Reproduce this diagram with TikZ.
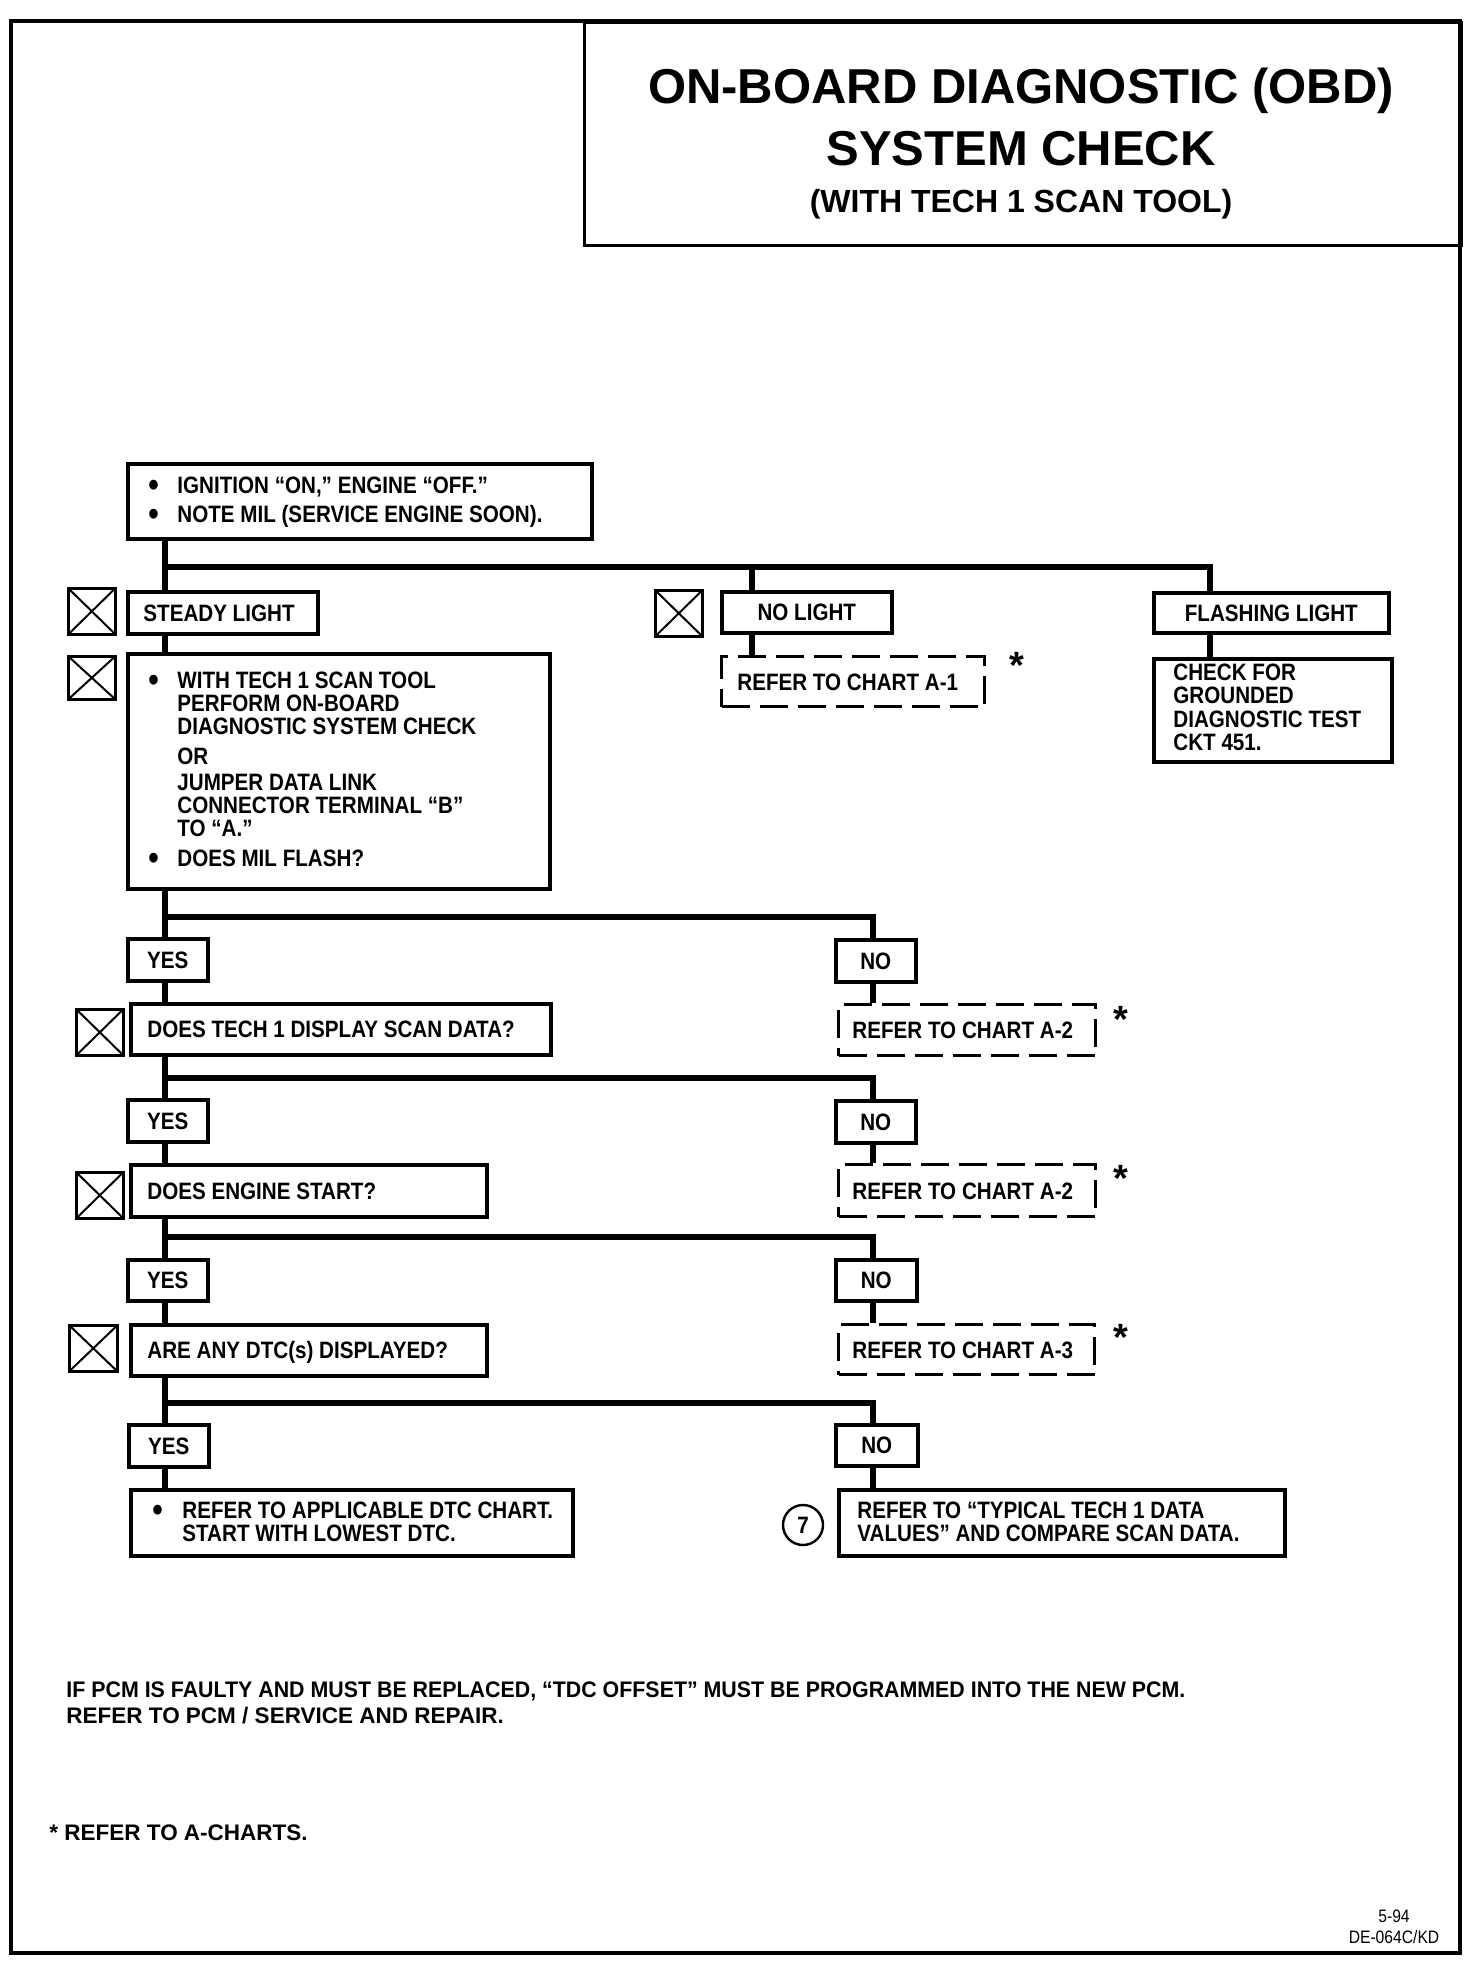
\documentclass[tikz,border=0pt]{standalone}
\usepackage{fontspec}
\setmainfont{Liberation Sans}
\newfontfamily\condfont{Liberation Sans}[FakeStretch=0.87]
\newcommand\bigbul{\raisebox{-1.6pt}{\scalebox{1.45}{\textbullet}}}
\newcommand\bul{\makebox[14.5pt][l]{\bigbul}}
\newcommand\ind{\kern14.5pt}
\begin{document}
\begin{tikzpicture}[x=0.5pt,y=-0.5pt,
  every node/.style={inner sep=0pt},
  box/.style={draw, line width=1.8pt, anchor=north west},
  dbox/.style={draw, line width=1.5pt, dash pattern=on 14pt off 5pt, anchor=north west},
  xbox/.style={draw, line width=1.3pt, anchor=north west, minimum width=23.5pt, minimum height=23pt,
    path picture={\draw[line width=1pt] (path picture bounding box.north west) -- (path picture bounding box.south east)
      (path picture bounding box.north east) -- (path picture bounding box.south west);}},
  txt/.style={font=\condfont\bfseries\fontsize{11.85pt}{14pt}\selectfont},
  ctxt/.style={txt, text height=8.6pt, text depth=0pt},
  conn/.style={line width=2.9pt},
  star/.style={font=\bfseries\fontsize{19pt}{19pt}\selectfont, anchor=north},
  foot/.style={font=\bfseries\fontsize{11.25pt}{12pt}\selectfont, anchor=base west},
]
\useasboundingbox (0,0) rectangle (1472,1964);
% frame and title box
\draw[line width=1.6pt] (11,21) rectangle (1460,1953);
\node[draw, line width=1.5pt, anchor=north west, minimum width=438.5pt, minimum height=111.5pt] (titlebox) at (583,21) {};
\node[font=\bfseries\fontsize{24.5pt}{24.5pt}\selectfont, anchor=base] (title1) at (1021,104) {ON-BOARD DIAGNOSTIC (OBD)};
\node[font=\bfseries\fontsize{24.5pt}{24.5pt}\selectfont, anchor=base] (title2) at (1021,165) {SYSTEM CHECK};
\node[font=\bfseries\fontsize{16pt}{16pt}\selectfont, anchor=base] (title3) at (1021,212) {(WITH TECH 1 SCAN TOOL)};

% boxes
\node[box, minimum width=232pt, minimum height=37.5pt] (b1) at (126,462) {};
\node[txt, anchor=base west] (b1t) at (148,493) {\vtop{\baselineskip=14.5pt
  \hbox{\bul IGNITION “ON,” ENGINE “OFF.”}\hbox{\bul NOTE MIL (SERVICE ENGINE SOON).}}};

\node[xbox] (xs) at (67,587) {};
\node[box, minimum width=95pt, minimum height=21pt] (steady) at (126,590) {};
\node[ctxt, anchor=west, xshift=8.5pt] (steadyt) at (steady.west) {STEADY LIGHT};

\node[xbox, minimum height=21.5pt] (xb2) at (67,655) {};
\node[box, minimum width=211pt, minimum height=117.5pt] (b2) at (126,652) {};
\node[txt, anchor=base west] (b2t) at (148,688.5) {\vtop{\baselineskip=11.4pt
  \hbox{\bul WITH TECH 1 SCAN TOOL}\hbox{\ind PERFORM ON-BOARD}\hbox{\ind DIAGNOSTIC SYSTEM CHECK}
  \vskip4pt\hbox{\ind OR}\vskip1.5pt\hbox{\ind JUMPER DATA LINK}\hbox{\ind CONNECTOR TERMINAL “B”}
  \hbox{\ind TO “A.”}\vskip3.5pt\hbox{\bul DOES MIL FLASH?}}};

\node[xbox] (xn) at (654,589) {};
\node[box, minimum width=85pt, minimum height=20.5pt] (nolight) at (720,590) {};
\node[ctxt] (nolightt) at (nolight.center) {NO LIGHT};
\node[dbox, minimum width=131.5pt, minimum height=25pt] (a1) at (720,655) {};
\node[ctxt, anchor=west, xshift=8.5pt] (a1t) at (a1.west) {REFER TO CHART A-1};
\node[star] (s1) at (1017,652) {*};

\node[box, minimum width=117.5pt, minimum height=20pt] (flash) at (1152,591) {};
\node[ctxt] (flasht) at (flash.center) {FLASHING LIGHT};
\node[box, minimum width=119pt, minimum height=51.5pt] (chk) at (1152,657) {};
\node[txt, anchor=base west] (chkt) at (1173,680) {\vtop{\baselineskip=11.75pt
  \hbox{CHECK FOR}\hbox{GROUNDED}\hbox{DIAGNOSTIC TEST}\hbox{CKT 451.}}};

% level 2
\node[box, minimum width=40pt, minimum height=21pt] (yes1) at (126,937) {};
\node[ctxt] (yes1t) at (yes1.center) {YES};
\node[box, minimum width=40pt, minimum height=21pt] (no1) at (834,938) {};
\node[ctxt] (no1t) at (no1.center) {NO};
\node[xbox] (xq1) at (75,1008) {};
\node[box, minimum width=210pt, minimum height=25.5pt] (q1) at (129,1002) {};
\node[ctxt, anchor=west, xshift=9pt] (q1t) at (q1.west) {DOES TECH 1 DISPLAY SCAN DATA?};
\node[dbox, minimum width=128.5pt, minimum height=25.5pt] (a2a) at (837,1003) {};
\node[ctxt, anchor=west, xshift=7.5pt] (a2at) at (a2a.west) {REFER TO CHART A-2};
\node[star] (s2) at (1121,1006) {*};

% level 3
\node[box, minimum width=40pt, minimum height=21pt] (yes2) at (126,1098) {};
\node[ctxt] (yes2t) at (yes2.center) {YES};
\node[box, minimum width=40pt, minimum height=21pt] (no2) at (834,1099) {};
\node[ctxt] (no2t) at (no2.center) {NO};
\node[xbox] (xq2) at (75,1171) {};
\node[box, minimum width=178pt, minimum height=26pt] (q2) at (129,1163) {};
\node[ctxt, anchor=west, xshift=9pt] (q2t) at (q2.west) {DOES ENGINE START?};
\node[dbox, minimum width=128.5pt, minimum height=26pt] (a2b) at (837,1163) {};
\node[ctxt, anchor=west, xshift=7.5pt] (a2bt) at (a2b.west) {REFER TO CHART A-2};
\node[star] (s3) at (1121,1165) {*};

% level 4
\node[box, minimum width=40pt, minimum height=20.5pt] (yes3) at (126,1258) {};
\node[ctxt] (yes3t) at (yes3.center) {YES};
\node[box, minimum width=40.5pt, minimum height=20.5pt] (no3) at (834,1258) {};
\node[ctxt] (no3t) at (no3.center) {NO};
\node[xbox, minimum width=24pt] (xq3) at (68,1324) {};
\node[box, minimum width=178pt, minimum height=25.5pt] (q3) at (129,1323) {};
\node[ctxt, anchor=west, xshift=9pt] (q3t) at (q3.west) {ARE ANY DTC(s) DISPLAYED?};
\node[dbox, minimum width=128pt, minimum height=25pt] (a3) at (837,1323) {};
\node[ctxt, anchor=west, xshift=7.5pt] (a3t) at (a3.west) {REFER TO CHART A-3};
\node[star] (s4) at (1121,1324) {*};

% level 5
\node[box, minimum width=40pt, minimum height=21pt] (yes4) at (127,1423) {};
\node[ctxt] (yes4t) at (yes4.center) {YES};
\node[box, minimum width=41pt, minimum height=20.5pt] (no4) at (834,1423) {};
\node[ctxt] (no4t) at (no4.center) {NO};
\node[box, minimum width=221pt, minimum height=33pt] (fl) at (129,1488) {};
\node[txt, anchor=base west] (flt) at (152,1518.5) {\vtop{\baselineskip=11.25pt
  \hbox{\makebox[15pt][l]{\bigbul}REFER TO APPLICABLE DTC CHART.}\hbox{\kern15pt START WITH LOWEST DTC.}}};
\node[box, minimum width=223pt, minimum height=33pt] (fr) at (837,1488) {};
\node[txt, anchor=base west] (frt) at (857,1518.5) {\vtop{\baselineskip=11.25pt
  \hbox{REFER TO “TYPICAL TECH 1 DATA}\hbox{VALUES” AND COMPARE SCAN DATA.}}};
\node[circle, draw, line width=1.2pt, minimum size=20pt, txt] (c7) at (803,1525) {7};

% junctions
\coordinate (j1L) at (165,567); \coordinate (j1M) at (752,567); \coordinate (j1R) at (1210,567);
\coordinate (j2L) at (165,917); \coordinate (j2R) at (873,917);
\coordinate (j3L) at (165,1078); \coordinate (j3R) at (873,1078);
\coordinate (j4L) at (165,1237); \coordinate (j4R) at (873,1237);
\coordinate (j5L) at (165,1403); \coordinate (j5R) at (873,1403);

% connectors
\draw[conn] (b1.south -| j1L) -- (steady.north -| j1L);
\draw[conn] (j1L) -- (j1R) -- (flash.north -| j1R);
\draw[conn] (j1M) -- (nolight.north -| j1M);
\draw[conn] (steady.south -| j1L) -- (b2.north -| j1L);
\draw[conn] (nolight.south -| j1M) -- (a1.north -| j1M);
\draw[conn] (flash.south -| j1R) -- (chk.north -| j1R);

\draw[conn] (b2.south -| j2L) -- (yes1.north -| j2L);
\draw[conn] (j2L) -- (j2R) -- (no1.north -| j2R);
\draw[conn] (yes1.south -| j2L) -- (q1.north -| j2L);
\draw[conn] (no1.south -| j2R) -- (a2a.north -| j2R);

\draw[conn] (q1.south -| j3L) -- (yes2.north -| j3L);
\draw[conn] (j3L) -- (j3R) -- (no2.north -| j3R);
\draw[conn] (yes2.south -| j3L) -- (q2.north -| j3L);
\draw[conn] (no2.south -| j3R) -- (a2b.north -| j3R);

\draw[conn] (q2.south -| j4L) -- (yes3.north -| j4L);
\draw[conn] (j4L) -- (j4R) -- (no3.north -| j4R);
\draw[conn] (yes3.south -| j4L) -- (q3.north -| j4L);
\draw[conn] (no3.south -| j4R) -- (a3.north -| j4R);

\draw[conn] (q3.south -| j5L) -- (yes4.north -| j5L);
\draw[conn] (j5L) -- (j5R) -- (no4.north -| j5R);
\draw[conn] (yes4.south -| j5L) -- (fl.north -| j5L);
\draw[conn] (no4.south -| j5R) -- (fr.north -| j5R);

% footer
\node[foot] (f1) at (66,1697) {\scalebox{0.95}[1]{IF PCM IS FAULTY AND MUST BE REPLACED, “TDC OFFSET” MUST BE PROGRAMMED INTO THE NEW PCM.}};
\node[foot] (f2) at (66,1723) {REFER TO PCM / SERVICE AND REPAIR.};
\node[foot] (f3) at (49,1840) {* REFER TO A-CHARTS.};
\node[font=\condfont\fontsize{9pt}{9pt}\selectfont, anchor=base] (d1) at (1394,1922) {5-94};
\node[font=\condfont\fontsize{9pt}{9pt}\selectfont, anchor=base] (d2) at (1394,1943) {DE-064C/KD};
\end{tikzpicture}
\end{document}
